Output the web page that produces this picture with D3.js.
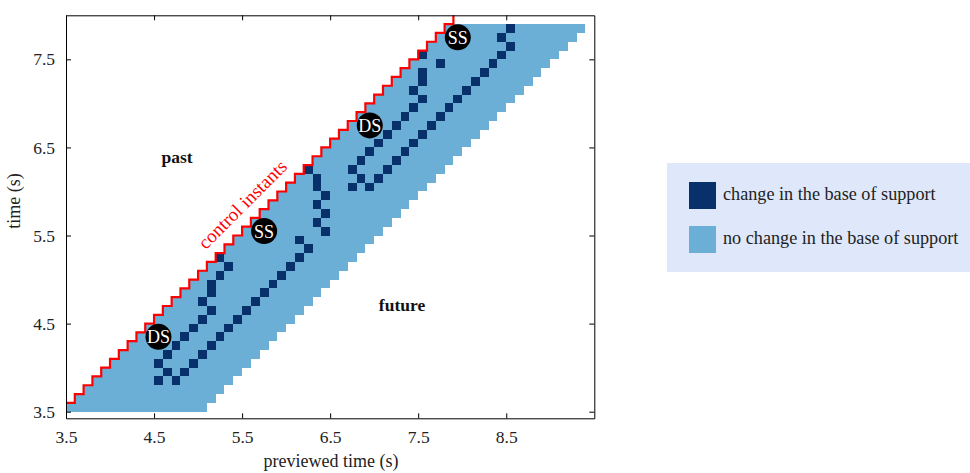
<!DOCTYPE html>
<html>
<head>
<meta charset="utf-8">
<script src="https://cdn.jsdelivr.net/npm/d3@7"></script>
<style>
  html, body { margin: 0; padding: 0; background: #ffffff; }
  svg { display: block; font-family: "Liberation Serif", "DejaVu Serif", serif; }
</style>
</head>
<body>
<svg id="chart" width="970" height="473"></svg>
<script>
// ---------------- data ----------------
// control instants (s): one row of previewed cells per instant
const controlTimes = [3.5,3.6,3.7,3.8,3.9,4.0,4.1,4.2,4.3,4.4,4.5,4.6,4.7,4.8,4.9,5.0,5.1,5.2,5.3,5.4,5.5,5.6,
                      5.7,5.8,5.9,6.0,6.1,6.2,6.3,6.4,6.5,6.6,6.7,6.8,6.9,7.0,7.1,7.2,7.3,7.4,7.5,7.6,7.7,7.8];
const previewHorizon = 1.6;   // length of the previewed window (s)
const cellStep = 0.1;         // sampling step (s)

// cells where the base of support changes: control time / previewed time (left edge)
const changeTime = [
  3.8,3.8, 3.9,3.9, 4.0,4.0, 4.1,4.1, 4.2,4.2, 4.3,4.3, 4.4,4.4, 4.5,4.5, 4.6,4.6, 4.7,4.7,
  4.8,4.8, 4.9,4.9, 5.0,5.0, 5.1,5.1, 5.2,5.2, 5.3, 5.4, 5.5, 5.6, 5.7, 5.8, 5.9,
  6.0,6.0,6.0, 6.1,6.1,6.1, 6.2,6.2,6.2, 6.3,6.3, 6.4,6.4, 6.5,6.5, 6.6,6.6, 6.7,6.7, 6.8,6.8,
  6.9,6.9, 7.0,7.0, 7.1,7.1, 7.2,7.2, 7.3,7.3, 7.4,7.4, 7.5,7.5, 7.6, 7.7, 7.8
];
const changePreview = [
  4.5,4.7, 4.6,4.8, 4.5,4.9, 4.6,5.0, 4.7,5.1, 4.8,5.2, 4.9,5.3, 5.0,5.4, 5.1,5.5, 5.0,5.6,
  5.1,5.7, 5.1,5.8, 5.2,5.9, 5.3,6.0, 5.2,6.1, 6.2, 6.1, 6.4, 6.3, 6.4, 6.3, 6.4,
  6.3,6.7,6.9, 6.3,6.8,7.0, 6.2,6.7,7.1, 6.8,7.2, 6.9,7.3, 7.0,7.4, 7.1,7.5, 7.2,7.6, 7.3,7.7,
  7.4,7.8, 7.5,7.9, 7.4,8.0, 7.5,8.1, 7.5,8.2, 7.7,8.3, 7.5,8.4, 8.5, 8.4, 8.5
];

// gait phase markers
const phaseLabels  = ["DS", "SS", "DS", "SS"];
const phaseTime    = [4.35, 5.55, 6.75, 7.75];
const phasePreview = [4.55, 5.75, 6.95, 7.95];

// axis ticks
const xTicks = [3.5, 4.5, 5.5, 6.5, 7.5, 8.5];
const yTicks = [3.5, 4.5, 5.5, 6.5, 7.5];

const legendLabels = ["change in the base of support", "no change in the base of support"];
const colors = { change: "#08306b", noChange: "#6baed6" };

// ---------------- drawing ----------------
const svg = d3.select("#chart");
const x = d3.scaleLinear().domain([3.5, 9.5]).range([66, 594.3]);
const y = d3.scaleLinear().domain([3.425, 8.0]).range([418.3, 15.3]);

const plot = svg.append("g");

// previewed windows (light cells)
plot.append("g").selectAll("rect")
  .data(controlTimes)
  .join("rect")
  .attr("x", t => x(t))
  .attr("width", t => x(t + previewHorizon) - x(t))
  .attr("y", t => y(t + cellStep))
  .attr("height", t => y(t) - y(t + cellStep))
  .attr("fill", colors.noChange)
  .attr("shape-rendering", "crispEdges");

// change cells
plot.append("g").selectAll("rect")
  .data(changeTime.map((t, i) => ({ t, p: changePreview[i] })))
  .join("rect")
  .attr("x", d => x(d.p))
  .attr("width", d => x(d.p + cellStep) - x(d.p))
  .attr("y", d => y(d.t + cellStep))
  .attr("height", d => y(d.t) - y(d.t + cellStep))
  .attr("fill", colors.change)
  .attr("shape-rendering", "crispEdges");

// control instants staircase
const stairs = [[controlTimes[0], controlTimes[0] + cellStep]];
controlTimes.forEach((t, i) => {
  if (i > 0) stairs.push([t, t]);
  stairs.push([t, t + cellStep]);
  stairs.push([t + cellStep, t + cellStep]);
});
const last = controlTimes[controlTimes.length - 1];
stairs.push([last + cellStep, last + 2 * cellStep]);
plot.append("path")
  .attr("d", d3.line().x(d => x(d[0])).y(d => y(d[1]))(stairs))
  .attr("fill", "none")
  .attr("stroke", "#ff0000")
  .attr("stroke-width", 2.2);

// phase markers
const mk = plot.append("g").selectAll("g")
  .data(phaseLabels.map((l, i) => ({ l, t: phaseTime[i], p: phasePreview[i] })))
  .join("g")
  .attr("transform", d => `translate(${x(d.p)},${y(d.t)})`);
mk.append("circle").attr("r", 13).attr("fill", "#000");
mk.append("text").text(d => d.l)
  .attr("text-anchor", "middle").attr("dy", "0.36em")
  .attr("fill", "#fff").attr("font-size", 18);

// annotations
plot.append("text").text("past").attr("x", 177).attr("y", 163)
  .attr("text-anchor", "middle").attr("font-size", 17.5).attr("font-weight", "bold").attr("fill", "#111");
plot.append("text").text("future").attr("x", 402).attr("y", 311)
  .attr("text-anchor", "middle").attr("font-size", 17.5).attr("font-weight", "bold").attr("fill", "#111");
plot.append("text").text("control instants")
  .attr("transform", "translate(247,209) rotate(-45)")
  .attr("text-anchor", "middle").attr("font-size", 19).attr("fill", "#ff0000");

// axes (inward ticks, boxed)
const ax = svg.append("g");
const styleAxis = g => {
  g.select(".domain").attr("stroke", "#000");
  g.selectAll(".tick line").attr("stroke", "#000");
  g.selectAll(".tick text").attr("fill", "#222").attr("font-size", 17.5)
    .attr("font-family", "Liberation Serif, DejaVu Serif, serif");
};
ax.append("g").attr("transform", `translate(0,${y.range()[0]})`)
  .call(d3.axisBottom(x).tickValues(xTicks).tickFormat(d3.format(".1f")).tickSizeInner(-5).tickSizeOuter(0).tickPadding(12))
  .call(styleAxis);
ax.append("g").attr("transform", `translate(${x.range()[0]},0)`)
  .call(d3.axisLeft(y).tickValues(yTicks).tickFormat(d3.format(".1f")).tickSizeInner(-5).tickSizeOuter(0).tickPadding(11))
  .call(styleAxis);
ax.append("g").attr("transform", `translate(0,${y.range()[1]})`)
  .call(d3.axisTop(x).tickValues(xTicks).tickFormat("").tickSizeInner(-5).tickSizeOuter(0))
  .call(styleAxis);
ax.append("g").attr("transform", `translate(${x.range()[1]},0)`)
  .call(d3.axisRight(y).tickValues(yTicks).tickFormat("").tickSizeInner(-5).tickSizeOuter(0))
  .call(styleAxis);

// axis titles
svg.append("text").text("previewed time (s)").attr("x", 331).attr("y", 467)
  .attr("text-anchor", "middle").attr("font-size", 18).attr("fill", "#222");
svg.append("text").text("time (s)").attr("transform", "translate(20,201) rotate(-90)")
  .attr("text-anchor", "middle").attr("font-size", 18).attr("fill", "#222");

// legend
const lg = svg.append("g");
lg.append("rect").attr("x", 667).attr("y", 163).attr("width", 303).attr("height", 109).attr("fill", "#dfe8fa");
const legendColors = [colors.change, colors.noChange];
legendLabels.forEach((lab, i) => {
  lg.append("rect").attr("x", 689).attr("y", 182 + i * 44).attr("width", 27).attr("height", 27)
    .attr("fill", legendColors[i]);
  lg.append("text").text(lab).attr("x", 723).attr("y", 200 + i * 44)
    .attr("font-size", 18.2).attr("fill", "#222");
});
</script>
</body>
</html>
